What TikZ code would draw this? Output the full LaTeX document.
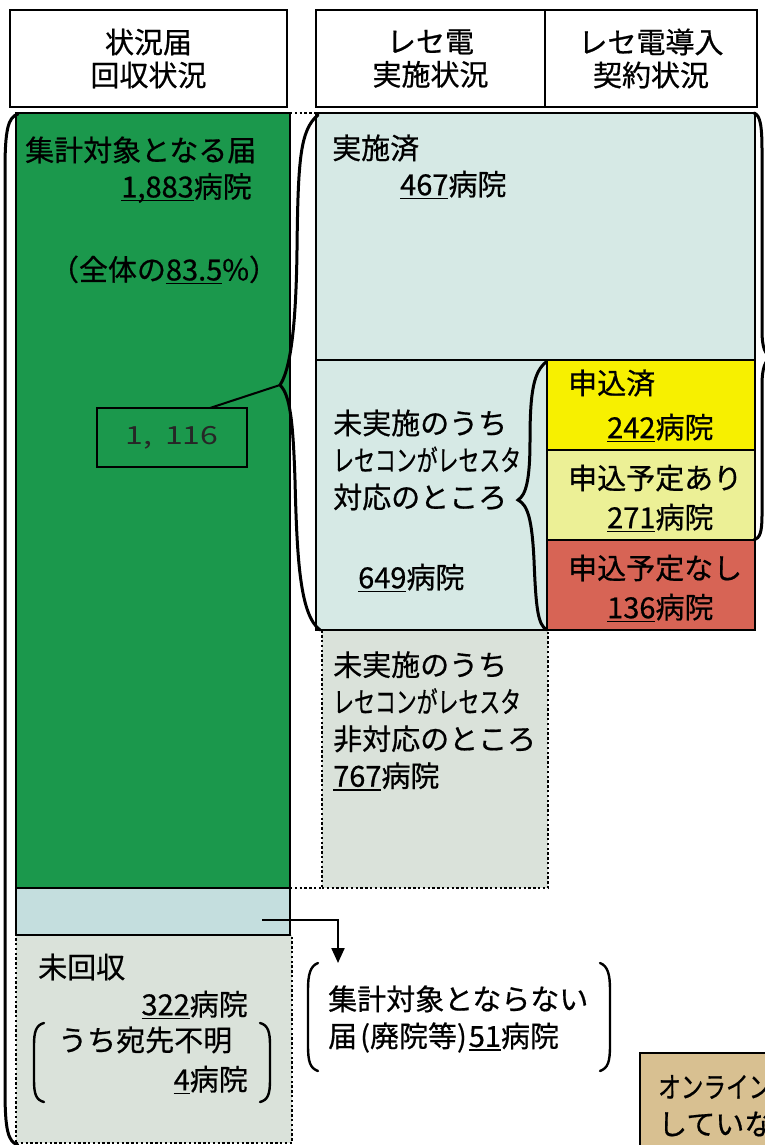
\documentclass[tikz,border=0pt]{standalone}
\usepackage{fontspec}
\usepackage{graphicx}
\usetikzlibrary{arrows.meta}
\newfontfamily\jpfont[FakeBold=0.6]{Noto Sans CJK JP}
\newfontfamily\numfont{Noto Sans CJK JP}
\newcommand\jp{\jpfont\fontsize{29}{37}\selectfont}
\newcommand\uln[1]{\setbox0\hbox{#1}\rlap{\rule[-4pt]{\wd0}{1.5pt}}\box0}
\newcommand\squeeze[2][0.72]{\scalebox{#1}[1]{#2}}
\definecolor{countgreen}{HTML}{1B984C}
\definecolor{paleblue}{HTML}{D6E9E5}
\definecolor{stripblue}{HTML}{C4DEDE}
\definecolor{graygreen}{HTML}{DAE2DA}
\definecolor{appliedyellow}{HTML}{F7F000}
\definecolor{plannedyellow}{HTML}{ECF096}
\definecolor{unplannedred}{HTML}{D76455}
\definecolor{onlinetan}{HTML}{D8C091}
\begin{document}
\begin{tikzpicture}[x=1pt, y=-1pt,
  box/.style={draw, line width=2.2pt, inner sep=0pt, outer sep=0pt, anchor=north west},
  dotbox/.style={draw, line width=2.6pt, dash pattern=on 2.4pt off 2.4pt, inner sep=0pt, outer sep=0pt, anchor=north west},
  dotline/.style={line width=2.6pt, dash pattern=on 2.4pt off 2.4pt},
  header/.style={box, fill=white, line width=2.6pt, align=center, font={\jpfont\fontsize{29}{33}\selectfont}},
  txt/.style={font=\jp, inner sep=0pt, anchor=west},
  brace/.style={line width=3pt, line cap=round},
  paren/.style={line width=2.4pt, line cap=round},
  arr/.style={line width=2.2pt, -{Triangle[length=15pt,width=13pt]}}]
  \useasboundingbox (0,0) rectangle (765,1145);
  \node[header, minimum width=277pt, minimum height=97pt] (hdrcollect) at (10,10) {状況届\\回収状況};
  \node[header, minimum width=229pt, minimum height=97pt] (hdrclaim) at (316,10) {レセ電\\実施状況};
  \node[header, minimum width=212pt, minimum height=97pt] (hdrcontract) at (545,10) {レセ電導入\\契約状況};
  \node[dotbox, fill=graygreen, minimum width=276pt, minimum height=208pt] (uncollected) at (16,935) {};
  \node[box, fill=countgreen, line width=1.8pt, minimum width=274pt, minimum height=775pt] (counted) at (16,113) {};
  \node[box, fill=stripblue, minimum width=274pt, minimum height=47pt] (excluded) at (16,888) {};
  \node[box, fill=paleblue, minimum width=439pt, minimum height=247pt] (done) at (316,113) {};
  \node[dotbox, fill=graygreen, minimum width=226pt, minimum height=258pt] (notready) at (322,630) {};
  \node[box, fill=paleblue, minimum width=231pt, minimum height=270pt] (ready) at (316,360) {};
  \node[box, fill=appliedyellow, minimum width=208pt, minimum height=90pt] (applied) at (547,360) {};
  \node[box, fill=plannedyellow, minimum width=208pt, minimum height=90pt] (planned) at (547,450) {};
  \node[box, fill=unplannedred, minimum width=208pt, minimum height=90pt] (unplanned) at (547,540) {};
  \node[box, fill=onlinetan, minimum width=200pt, minimum height=120pt] (online) at (640,1053) {};
  \draw[dotline] (counted.north east) -- (done.north west);
  \draw[dotline] (counted.south east) -- (notready.south west);
  \coordinate (splittip) at (280,385);
  \coordinate (readytip) at (518,500);
  \coordinate (donetip) at (772,357);
  \draw[brace] (18,114) .. controls (8,117) and (5,130) .. (5,170) -- (5,1090) .. controls (5,1130) and (8,1142) .. (18,1145);
  \draw[brace] (318,115) .. controls (300,130) and (298,160) .. (297,250) .. controls (296,330) and (290,370) .. (splittip)
    .. controls (290,395) and (293,420) .. (295,480) .. controls (297,560) and (300,615) .. (320,630);
  \draw[brace] (546,362) .. controls (534,372) and (530,390) .. (530,440) .. controls (530,480) and (526,495) .. (readytip)
    .. controls (528,505) and (532,520) .. (534,560) .. controls (536,610) and (538,625) .. (547,630);
  \draw[brace] (754,113) .. controls (760,115) and (762,125) .. (762,150) -- (762,330) .. controls (762,348) and (765,355) .. (donetip)
    .. controls (765,360) and (762,368) .. (762,385) -- (762,515) .. controls (762,532) and (760,538) .. (754,540);
  \node[box, line width=2pt, minimum width=150pt, minimum height=59pt, font={\numfont\fontsize{25}{30}\selectfont}, text=black!85] (subtotal) at (97,408) {\squeeze[1.28]{1,\hspace{10pt}116}};
  \draw[line width=2pt] ([xshift=38pt]subtotal.north) -- (splittip);
  \node[txt] (countedtitle) at (25,150) {集計対象となる届};
  \node[txt, anchor=east] (countednum) at (252,188) {\uln{1,883}病院};
  \node[txt, anchor=center] (countedshare) at (164,270) {（全体の\uln{83.5}\%）};
  \node[txt] (donetitle) at (332,148) {実施済};
  \node[txt] (donenum) at (400,185) {\uln{467}病院};
  \node[txt, align=left] (readytitle) at (333,460) {未実施のうち\\\squeeze{レセコンがレセスタ}\\対応のところ};
  \node[txt] (readynum) at (358,578) {\uln{649}病院};
  \node[txt] (appliedtitle) at (568,383) {申込済};
  \node[txt] (appliednum) at (607,428) {\uln{242}病院};
  \node[txt] (plannedtitle) at (568,478) {申込予定あり};
  \node[txt] (plannednum) at (607,518) {\uln{271}病院};
  \node[txt] (unplannedtitle) at (568,568) {申込予定なし};
  \node[txt] (unplannednum) at (607,608) {\uln{136}病院};
  \node[txt, align=left] (notreadytitle) at (333,721) {未実施のうち\\\squeeze{レセコンがレセスタ}\\非対応のところ\\\uln{767}病院};
  \node[txt] (uncollectedtitle) at (38,967) {未回収};
  \node[txt, anchor=east] (uncollectednum) at (248,1005) {\uln{322}病院};
  \node[txt] (unknowntitle) at (58,1040) {うち宛先不明};
  \node[txt, anchor=east] (unknownnum) at (248,1080) {\uln{4}病院};
  \draw[paren] (44,1023) .. controls (36,1025) and (34,1032) .. (34,1045) -- (34,1080) .. controls (34,1094) and (36,1100) .. (44,1102);
  \draw[paren] (260,1023) .. controls (268,1025) and (270,1032) .. (270,1045) -- (270,1080) .. controls (270,1094) and (268,1100) .. (260,1102);
  \node[txt, align=left] (excltext) at (328,1019) {集計対象とならない\\届\hspace{3pt}(廃院等)\hspace{2pt}\uln{51}病院};
  \draw[paren] (318,963) .. controls (310,966) and (308,975) .. (308,990) -- (308,1045) .. controls (308,1062) and (310,1068) .. (318,1071);
  \draw[paren] (600,963) .. controls (608,966) and (610,975) .. (610,990) -- (610,1045) .. controls (610,1062) and (608,1068) .. (600,1071);
  \coordinate (exclstart) at (262,920);
  \coordinate (exclend) at (338,963);
  \draw[arr] (exclstart) -| (exclend);
  \node[txt] (onlinetitle) at (658,1087) {\squeeze[0.78]{オンライン}};
  \node[txt] (onlinesub) at (658,1124) {していな};
\end{tikzpicture}
\end{document}
